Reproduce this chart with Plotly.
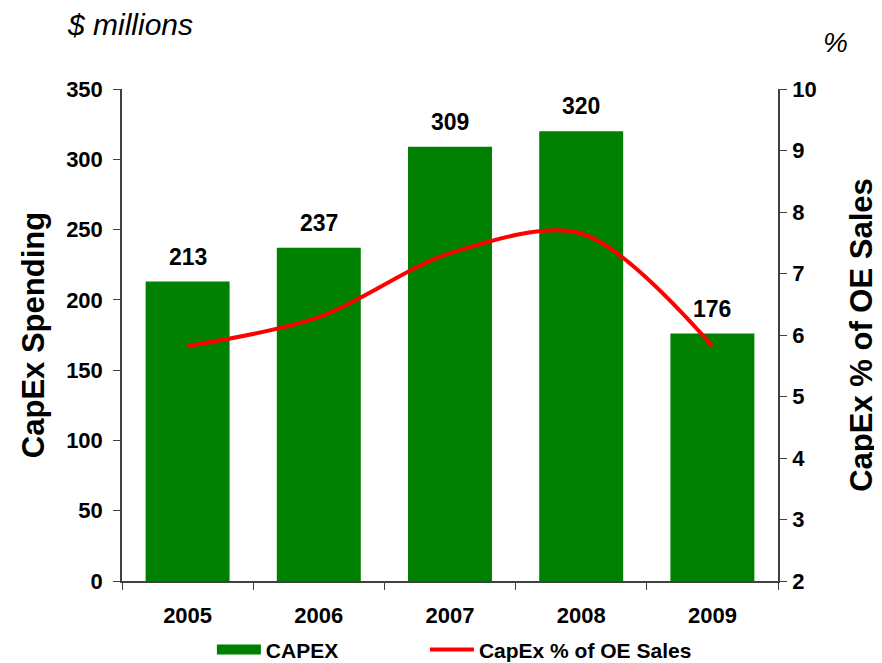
import plotly.graph_objects as go

years = ["2005", "2006", "2007", "2008", "2009"]
capex = [213, 237, 309, 320, 176]
capex_pct = [5.82, 6.29, 7.33, 7.65, 5.82]

FONT = "Liberation Sans, Arial, sans-serif"
AX = "#404040"
GREEN = "#008000"
RED = "#FF0000"
NB = "\u00a0"

fig = go.Figure()
fig.add_trace(go.Bar(
    x=years, y=capex, name="CAPEX", showlegend=False,
    marker=dict(color=GREEN, line=dict(width=0)),
))
# legend-only entry giving the wide green swatch
fig.add_trace(go.Scatter(
    x=[None], y=[None], mode="lines", name="<b>CAPEX</b>" + NB * 14,
    line=dict(color=GREEN, width=17),
))
fig.add_trace(go.Scatter(
    x=years, y=capex_pct, name="<b>CapEx % of OE Sales</b>", yaxis="y2",
    mode="lines", line=dict(color=RED, width=4, shape="spline", smoothing=0.9),
))

annotations = [
    dict(text="<b>%d</b>" % v, x=i, y=v, xref="x", yref="y", showarrow=False,
         yanchor="middle", yshift=25, font=dict(family=FONT, size=23, color="black"))
    for i, v in enumerate(capex)
]
annotations += [
    dict(text="<i>$ millions</i>", xref="paper", yref="paper", x=-0.087, y=1.132,
         xanchor="left", yanchor="middle", showarrow=False,
         font=dict(family=FONT, size=30, color="black")),
    dict(text="<i>%</i>", xref="paper", yref="paper", x=1.087, y=1.095,
         xanchor="center", yanchor="middle", showarrow=False,
         font=dict(family=FONT, size=28, color="black")),
]

fig.update_layout(
    width=882, height=663,
    margin=dict(l=114, r=112, t=81, b=90, autoexpand=False),
    paper_bgcolor="white", plot_bgcolor="white",
    font=dict(family=FONT, color="black"),
    bargap=0.36,
    showlegend=True,
    legend=dict(orientation="h", x=0.137, xanchor="left",
                yref="container", y=0.032, yanchor="middle",
                font=dict(family=FONT, size=21, color="black"), itemwidth=44,
                traceorder="normal"),
    xaxis=dict(
        type="category", range=[-0.5, len(years) - 0.5], categoryorder="array",
        categoryarray=years, automargin=False,
        showline=True, linecolor=AX, linewidth=1.5,
        ticks="outside", tickson="boundaries", ticklen=7, tickcolor=AX,
        tickfont=dict(family=FONT, size=22, color="black"), ticklabelstandoff=14,
        tickprefix="<b>", ticksuffix="</b>",
        showgrid=False,
    ),
    yaxis=dict(
        range=[0, 350], dtick=50, showline=True, linecolor=AX, linewidth=1.5,
        automargin=False,
        ticks="outside", ticklen=7, tickcolor=AX, showgrid=False, zeroline=False,
        tickfont=dict(family=FONT, size=22, color="black"), ticklabelstandoff=6,
        tickprefix="<b>", ticksuffix="</b>",
        title=dict(text="<b>CapEx Spending</b>", font=dict(family=FONT, size=31), standoff=12),
    ),
    yaxis2=dict(
        range=[2, 10], dtick=1, overlaying="y", side="right",
        showline=True, linecolor=AX, linewidth=1.5, automargin=False,
        ticks="outside", ticklen=7, tickcolor=AX, showgrid=False, zeroline=False,
        tickfont=dict(family=FONT, size=22, color="black"), ticklabelstandoff=1,
        tickprefix="<b>", ticksuffix="</b>",
        title=dict(text="<b>CapEx % of OE Sales</b>", font=dict(family=FONT, size=31), standoff=35),
    ),
    annotations=annotations,
)

fig.write_html("out.html")
